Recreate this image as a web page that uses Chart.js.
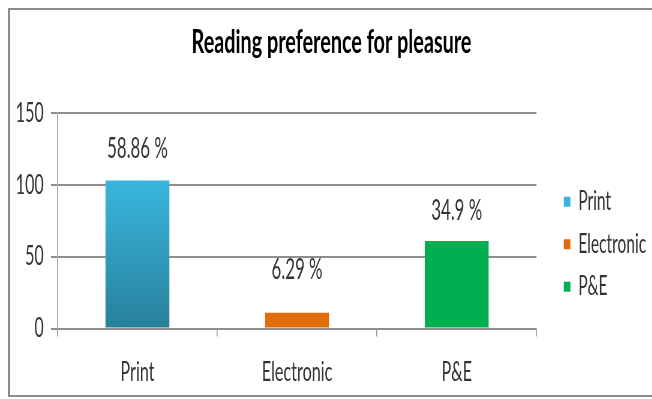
<!DOCTYPE html>
<html>
<head>
<meta charset="utf-8">
<script src="https://cdn.jsdelivr.net/npm/chart.js@4.4.1/dist/chart.umd.min.js"></script>
<style>
  html, body { margin: 0; padding: 0; background: #fff; width: 652px; height: 399px; overflow: hidden; }
  /* chart is laid out wide and then condensed horizontally */
  #stage { position: absolute; left: 0; top: 0; width: 1087px; height: 399px; transform: scaleX(0.6); transform-origin: 0 0; }
  #frame { position: absolute; left: 8px; top: 8px; width: 700px; height: 385px; border: 2px solid #8c8c8c; border-right: none; pointer-events: none; }
</style>
</head>
<body>
<div id="stage"><canvas id="chart"></canvas></div>
<div id="frame"></div>
<script>
const categories = ['Print', 'Electronic', 'P&E'];
const respondents = [103, 11, 61];
const shareLabels = ['58.86 %', '6.29 %', '34.9 %'];
const yTicks = [0, 50, 100, 150];
const barColors = ['#33acd4', '#e36c0a', '#00b050'];
const legendColors = ['#3fb3da', '#e36c0a', '#00b050'];

const FONT = 'Lato';
const TEXT = '#333333';
const GRID = '#8e8e8e';

// writes the percentage share above each bar
const shareLabelPlugin = {
  id: 'shareLabels',
  afterDatasetsDraw(chart, args, opts) {
    const meta = chart.getDatasetMeta(0);
    const ctx = chart.ctx;
    ctx.save();
    ctx.font = opts.size + 'px ' + FONT;
    ctx.fillStyle = TEXT;
    ctx.textAlign = 'center';
    ctx.textBaseline = 'middle';
    meta.data.forEach((bar, i) => {
      ctx.fillText(shareLabels[i], bar.x, bar.y - opts.offsets[i]);
    });
    ctx.restore();
  }
};

function printGradient(ctx) {
  if (ctx.type !== 'data') return barColors[0];
  if (ctx.dataIndex !== 0) return barColors[ctx.dataIndex];
  const chart = ctx.chart;
  const y = chart.scales && chart.scales.y;
  if (!chart.chartArea || !y) return barColors[0];
  const top = y.getPixelForValue(ctx.raw);
  const base = y.getPixelForValue(0);
  const g = chart.ctx.createLinearGradient(0, top, 0, base);
  g.addColorStop(0, '#39b6dd');
  g.addColorStop(1, '#27809c');
  return g;
}

new Chart(document.getElementById('chart'), {
  type: 'bar',
  data: {
    labels: categories,
    datasets: [{
      label: 'Respondents',
      data: respondents,
      backgroundColor: printGradient,
      borderWidth: 0,
      barPercentage: 0.4,
      categoryPercentage: 1.0
    }]
  },
  plugins: [shareLabelPlugin],
  options: {
    responsive: true,
    maintainAspectRatio: false,
    animation: false,
    events: [],
    layout: { padding: { top: 0, left: 18, right: 0, bottom: 0 } },
    plugins: {
      title: {
        display: true,
        text: 'Reading preference for pleasure',
        color: '#000000',
        font: { family: FONT, size: 33, weight: 'bold', lineHeight: 1.2 },
        padding: { top: 22.5, bottom: 51 }
      },
      legend: {
        position: 'right',
        align: 'center',
        // empty title block used only to push the entries down
        title: { display: true, text: '', font: { size: 1, lineHeight: 1 }, padding: { top: 88.4, bottom: 0 } },
        labels: {
          font: { family: FONT, size: 26 },
          color: TEXT,
          boxWidth: 11,
          boxHeight: 10,
          padding: 16.5,
          generateLabels: () => categories.map((c, i) => ({
            text: c,
            fillStyle: legendColors[i],
            strokeStyle: legendColors[i],
            lineWidth: 0,
            hidden: false,
            index: i,
            datasetIndex: 0,
            fontColor: TEXT
          }))
        }
      },
      tooltip: { enabled: false },
      shareLabels: { size: 28, offsets: [32, 43, 30] }
    },
    scales: {
      x: {
        grid: { drawOnChartArea: false, drawTicks: true, tickLength: 8, color: '#9a9a9a', lineWidth: 1.7, offset: true },
        border: { display: false },
        ticks: { font: { family: FONT, size: 27 }, color: TEXT, padding: 20 },
        afterFit: s => { s.height = 70.5; }
      },
      y: {
        min: 0,
        max: 150,
        afterBuildTicks: s => { s.ticks = yTicks.map(v => ({ value: v })); },
        ticks: { font: { family: FONT, size: 27 }, color: TEXT, padding: 12 },
        grid: { color: GRID, lineWidth: 2, tickLength: 11, tickColor: GRID, tickWidth: 2 },
        border: { display: true, color: '#a6a6a6', width: 1.7 },
        afterFit: s => { s.width = 78; }
      },
      gap: {
        type: 'linear',
        position: 'right',
        display: true,
        grid: { display: false },
        border: { display: false },
        ticks: { display: false },
        afterFit: s => { s.width = 29; }
      }
    }
  }
});
</script>
</body>
</html>
